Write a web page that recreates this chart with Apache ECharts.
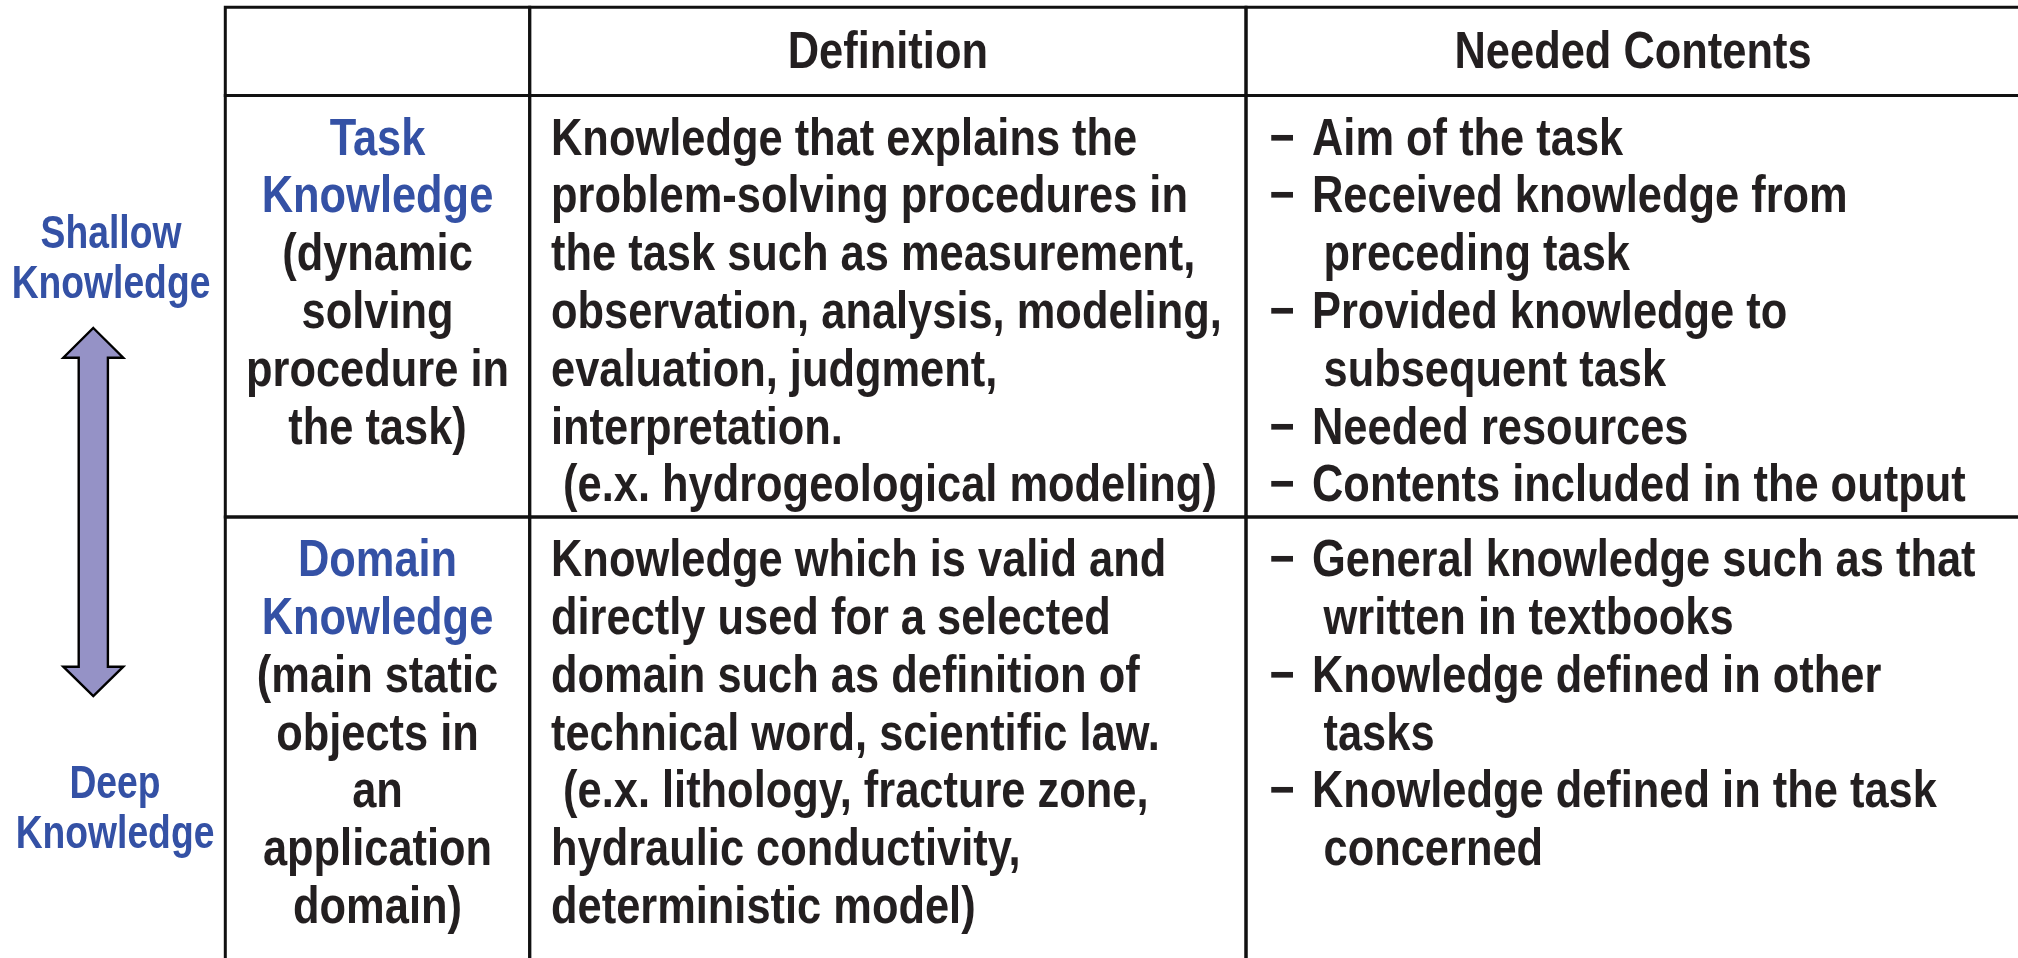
<!DOCTYPE html>
<html>
<head>
<meta charset="utf-8">
<script src="https://cdn.jsdelivr.net/npm/echarts@6/dist/echarts.min.js"></script>
<style>
html,body{margin:0;padding:0;background:#fff;}
#chart{width:2018px;height:958px;}
</style>
</head>
<body>
<div id="chart"></div>
<script>
// ---------------- DATA ----------------
const columnHeaders = ['', 'Definition', 'Needed Contents'];
const knowledgeTitles = [['Task', 'Knowledge'], ['Domain', 'Knowledge']];
const knowledgeNotes = [
  ['(dynamic', 'solving', 'procedure in', 'the task)'],
  ['(main static', 'objects in', 'an', 'application', 'domain)']
];
const definitionLines = [
  ['Knowledge that explains the', 'problem-solving procedures in', 'the task such as measurement,',
   'observation, analysis, modeling,', 'evaluation, judgment,', 'interpretation.',
   ' (e.x. hydrogeological modeling)'],
  ['Knowledge which is valid and', 'directly used for a selected', 'domain such as definition of',
   'technical word, scientific law.', ' (e.x. lithology, fracture zone,', 'hydraulic conductivity,',
   'deterministic model)']
];
const neededContents = [
  [['Aim of the task'], ['Received knowledge from', 'preceding task'], ['Provided knowledge to', 'subsequent task'],
   ['Needed resources'], ['Contents included in the output']],
  [['General knowledge such as that', 'written in textbooks'], ['Knowledge defined in other', 'tasks'],
   ['Knowledge defined in the task', 'concerned']]
];
const depthLabels = [['Shallow', 'Knowledge'], ['Deep', 'Knowledge']];

// ---------------- LAYOUT / STYLE ----------------
const W = 2018, H = 958;
const L = {
  colEdges: [225.3, 529.7, 1246, 2020],
  rowEdges: [7.3, 95.5, 517, 975],
  border: 3,
  headerMid: 46.5,
  firstLine: 44.8,
  lineStep: 57.8,
  defX: 551,
  dashX: 1269.5,
  bulletX: 1312,
  contX: 1323.5,
  depthX: [111, 115],
  depthY: [[235, 285.5], [785, 835]],
  arrow: { cx: 93.3, top: 328, headBaseTop: 357.7, headBaseBot: 666.7, bottom: 696, headHalf: 30, shaftHalf: 14.6 }
};
const FONT = '"Liberation Sans", Arial, sans-serif';
const BLUE = '#3451a5', INK = '#231f20', LINE = '#111111', ARROW_FILL = '#9592c6';
const BODY = { size: 52, sx: 0.835 };
const SIDE = { size: 46, sx: 0.81 };

function txt(str, x, y, color, align, f) {
  return {
    type: 'text', x: x, y: y, scaleX: f.sx, scaleY: 1,
    style: {
      text: str, x: 0, y: 0, fill: color,
      fontSize: f.size, fontWeight: 'bold', fontFamily: FONT,
      align: align, textAlign: align, verticalAlign: 'middle', textVerticalAlign: 'middle'
    }
  };
}

// table cells: [col, row] (row 0 = header)
const cellData = [];
for (let r = 0; r < 3; r++) for (let c = 0; c < 3; c++) cellData.push([c, r]);

function renderCell(params, api) {
  const c = api.value(0), r = api.value(1);
  const p0 = api.coord([L.colEdges[c], L.rowEdges[r]]);
  const p1 = api.coord([L.colEdges[c + 1], L.rowEdges[r + 1]]);
  const children = [{
    type: 'rect',
    shape: { x: p0[0], y: p0[1], width: p1[0] - p0[0], height: p1[1] - p0[1] },
    style: { fill: 'none', stroke: LINE, lineWidth: L.border }
  }];
  const cx = (p0[0] + p1[0]) / 2;
  const lineY = i => p0[1] + L.firstLine + i * L.lineStep;
  if (r === 0) {
    if (columnHeaders[c]) children.push(txt(columnHeaders[c], cx, p0[1] + L.headerMid, INK, 'center', BODY));
  } else {
    const k = r - 1;
    if (c === 0) {
      const lines = knowledgeTitles[k].map(s => [s, BLUE]).concat(knowledgeNotes[k].map(s => [s, INK]));
      lines.forEach((ln, i) => children.push(txt(ln[0], cx, lineY(i), ln[1], 'center', BODY)));
    } else if (c === 1) {
      definitionLines[k].forEach((s, i) => children.push(txt(s, api.coord([L.defX, 0])[0], lineY(i), INK, 'left', BODY)));
    } else {
      let i = 0;
      neededContents[k].forEach(item => {
        children.push(txt('\u2212', api.coord([L.dashX, 0])[0], lineY(i), INK, 'left', BODY));
        item.forEach((s, j) => {
          const x = api.coord([j === 0 ? L.bulletX : L.contX, 0])[0];
          children.push(txt(s, x, lineY(i), INK, 'left', BODY));
          i++;
        });
      });
    }
  }
  return { type: 'group', children: children };
}

function renderDepth(params, api) {
  const k = params.dataIndex;
  const children = depthLabels[k].map((s, i) => {
    const p = api.coord([L.depthX[k], L.depthY[k][i]]);
    return txt(s, p[0], p[1], BLUE, 'center', SIDE);
  });
  return { type: 'group', children: children };
}

function renderArrow(params, api) {
  const a = L.arrow;
  const pts = [
    [a.cx, a.top], [a.cx + a.headHalf, a.headBaseTop], [a.cx + a.shaftHalf, a.headBaseTop],
    [a.cx + a.shaftHalf, a.headBaseBot], [a.cx + a.headHalf, a.headBaseBot], [a.cx, a.bottom],
    [a.cx - a.headHalf, a.headBaseBot], [a.cx - a.shaftHalf, a.headBaseBot],
    [a.cx - a.shaftHalf, a.headBaseTop], [a.cx - a.headHalf, a.headBaseTop]
  ].map(p => api.coord(p));
  return {
    type: 'polygon', shape: { points: pts },
    style: { fill: ARROW_FILL, stroke: '#000', lineWidth: 2.4, lineJoin: 'miter' }
  };
}

const chart = echarts.init(document.getElementById('chart'), null, { renderer: 'canvas' });
chart.setOption({
  backgroundColor: '#ffffff',
  animation: false,
  grid: { left: 0, right: 0, top: 0, bottom: 0 },
  xAxis: { type: 'value', min: 0, max: W, show: false },
  yAxis: { type: 'value', min: 0, max: H, inverse: true, show: false },
  series: [
    { type: 'custom', name: 'table', data: cellData, renderItem: renderCell, clip: false, silent: true },
    { type: 'custom', name: 'depth', data: depthLabels.map((d, i) => [i, i]), renderItem: renderDepth, clip: false, silent: true },
    { type: 'custom', name: 'arrow', data: [[0, 1]], renderItem: renderArrow, clip: false, silent: true }
  ]
});
</script>
</body>
</html>
